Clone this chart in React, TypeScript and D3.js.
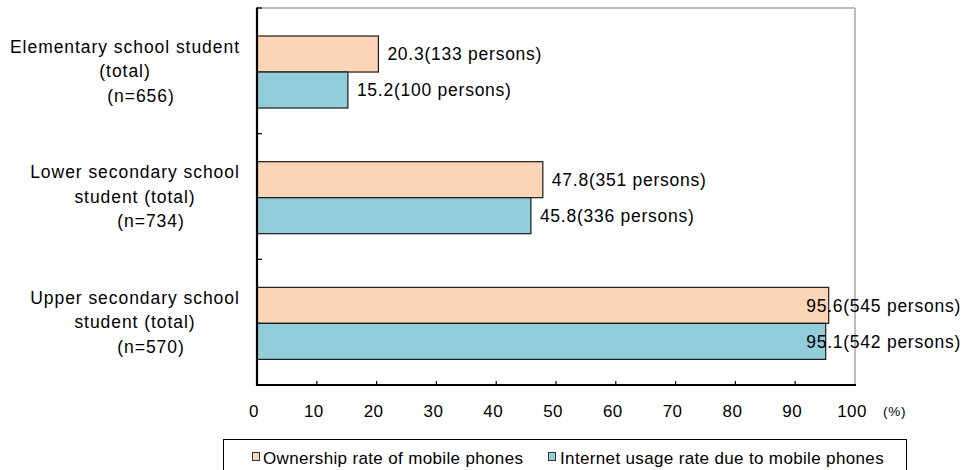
import React from "react";
import * as d3 from "d3";

const categories = [
  ["Elementary school student", "(total)", "(n=656)"],
  ["Lower secondary school", "student (total)", "(n=734)"],
  ["Upper secondary school", "student (total)", "(n=570)"],
];
const categoryKeys = ["elementary", "lower", "upper"];
const seriesNames = ["Ownership rate of mobile phones", "Internet usage rate due to mobile phones"];
const ownershipRate = [20.3, 47.8, 95.6];
const ownershipPersons = [133, 351, 545];
const internetRate = [15.2, 45.8, 95.1];
const internetPersons = [100, 336, 542];
const xTicks = [0, 10, 20, 30, 40, 50, 60, 70, 80, 90, 100];

const colors = ["#FBD5B5", "#92CDDC"];
const FONT = "'Liberation Sans', Arial, sans-serif";

export default function App() {
  const W = 964;
  const H = 470;
  const left = 257;
  const right = 855;
  const top = 8;
  const bottom = 385;

  const x = d3.scaleLinear().domain([0, 100]).range([left, right]);
  const y = d3.scaleBand<string>().domain(categoryKeys).range([top, bottom]);
  const bw = y.bandwidth();
  const inner = d3
    .scaleBand<number>()
    .domain([0, 1])
    .range([bw * 0.223, bw * 0.796]);

  const series = [
    { rates: ownershipRate, persons: ownershipPersons },
    { rates: internetRate, persons: internetPersons },
  ];

  const labelLimit = 961;
  const estLabelW = 156;

  return (
    <svg width={W} height={H} style={{ position: "absolute", left: 0, top: 0, background: "#fff" }}>
      {/* plot frame: light top/right border */}
      <line x1={left} x2={right} y1={top} y2={top} stroke="#a6a6a6" strokeWidth={1.5} />
      <line x1={right} x2={right} y1={top} y2={bottom} stroke="#a6a6a6" strokeWidth={1.5} />

      {/* bars */}
      {categoryKeys.map((k, i) => (
        <g key={k} transform={`translate(0,${y(k)})`}>
          {series.map((s, j) => {
            const v = s.rates[i];
            const by = inner(j)!;
            const bh = inner.bandwidth();
            const end = x(v);
            const tx = end + 9;
            const overflow = tx + estLabelW > labelLimit;
            return (
              <g key={j}>
                <rect
                  x={x(0)}
                  y={by}
                  width={end - x(0)}
                  height={bh}
                  fill={colors[j]}
                  stroke="#1a1a1a"
                  strokeWidth={1.2}
                />
                <text
                  x={overflow ? labelLimit : tx}
                  y={by + bh / 2}
                  dy="0.36em"
                  textAnchor={overflow ? "end" : "start"}
                  fontFamily={FONT}
                  fontSize={17.5}
                  letterSpacing={0.75}
                  fill="#000"
                >
                  {`${v.toFixed(1)}(${s.persons[i]} persons)`}
                </text>
              </g>
            );
          })}
        </g>
      ))}

      {/* axes */}
      <line x1={left} x2={left} y1={top - 0.5} y2={bottom + 1} stroke="#000" strokeWidth={2.2} />
      <line x1={left - 1} x2={right + 1} y1={bottom} y2={bottom} stroke="#000" strokeWidth={2.2} />
      {[top, ...categoryKeys.slice(1).map((k) => y(k)!)].map((ty, i) => (
        <line key={i} x1={left} x2={left + 5} y1={ty} y2={ty} stroke="#000" strokeWidth={1.2} />
      ))}
      {xTicks.slice(1, -1).map((t) => (
        <line key={t} x1={x(t)} x2={x(t)} y1={bottom} y2={bottom - 4} stroke="#000" strokeWidth={1.2} />
      ))}
      {xTicks.map((t) => (
        <text
          key={t}
          x={x(t) - 3}
          y={417}
          textAnchor="middle"
          fontFamily={FONT}
          fontSize={17}
          letterSpacing={0.4}
        >
          {t}
        </text>
      ))}
      <text x={883} y={416} fontFamily={FONT} fontSize={13.5} letterSpacing={0.8}>
        (%)
      </text>

      {/* category labels */}
      {categoryKeys.map((k, i) => {
        const cy = y(k)! + bw / 2;
        const lines = categories[i];
        const cx = i === 0 ? 125 : 135;
        return (
          <g key={k} fontFamily={FONT} fontSize={17.5} letterSpacing={0.95} textAnchor="middle">
            <text x={cx} y={cy - 24.5} dy="0.36em">{lines[0]}</text>
            <text x={cx} y={cy} dy="0.36em">{lines[1]}</text>
            <text x={cx + 16} y={cy + 24.5} dy="0.36em">{lines[2]}</text>
          </g>
        );
      })}

      {/* legend */}
      <rect x={223.5} y={439.5} width={683} height={40} fill="#fff" stroke="#000" strokeWidth={1} />
      <rect x={252.5} y={452.5} width={7} height={8} fill={colors[0]} stroke="#333" strokeWidth={1} />
      <text x={263} y={464} fontFamily={FONT} fontSize={17} letterSpacing={0.35}>
        {seriesNames[0]}
      </text>
      <rect x={548.5} y={452.5} width={7} height={8} fill={colors[1]} stroke="#333" strokeWidth={1} />
      <text x={560} y={464} fontFamily={FONT} fontSize={17} letterSpacing={0.35}>
        {seriesNames[1]}
      </text>
    </svg>
  );
}
